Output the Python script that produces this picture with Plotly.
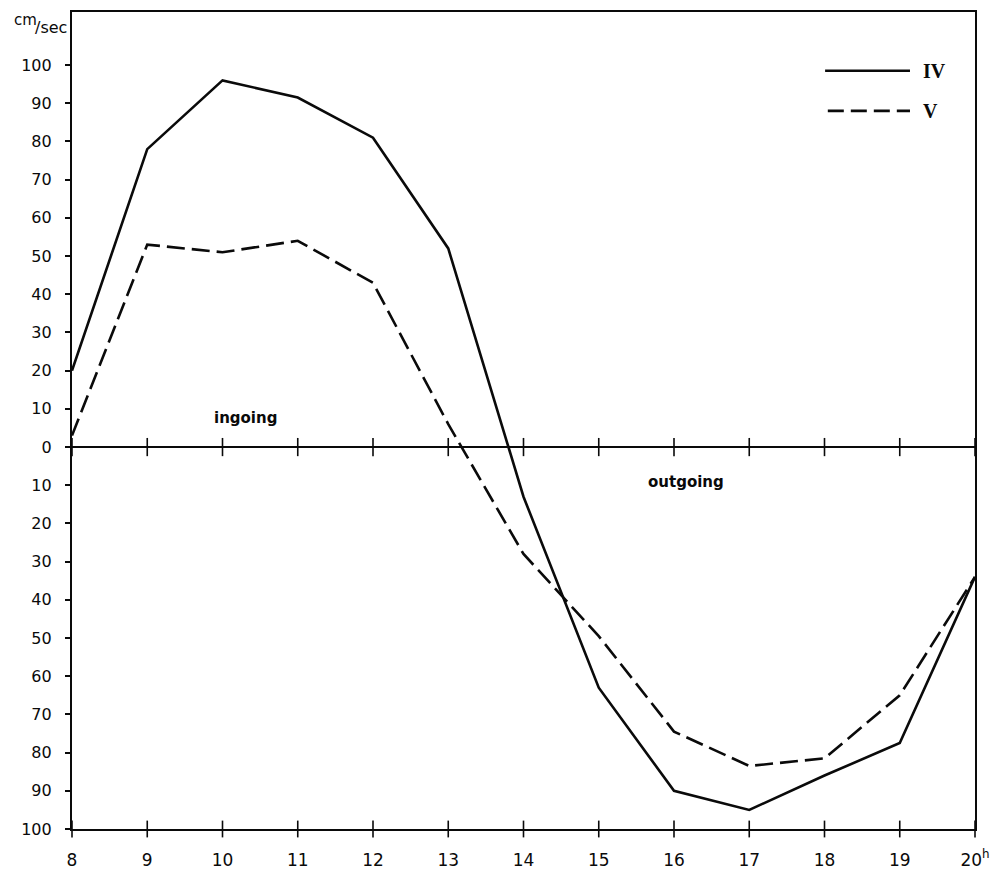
import plotly.graph_objects as go

hours = [8, 9, 10, 11, 12, 13, 14, 15, 16, 17, 18, 19, 20]
series_IV = [20, 78, 96, 91.5, 81, 52, -13, -63, -90, -95, -86, -77.5, -34]
series_V = [3, 53, 51, 54, 43, 6, -28, -49.5, -74.5, -83.5, -81.5, -65, -34]

x_tick_text = ["8", "9", "10", "11", "12", "13", "14", "15", "16", "17", "18", "19", "20<sup>h</sup>"]
y_tick_vals = list(range(-100, 101, 10))
y_tick_text = [str(abs(v)) for v in y_tick_vals]

FONT = "DejaVu Sans"
INK = "#0a0a0a"

fig = go.Figure()

# zero line with crossing ticks
fig.add_trace(go.Scatter(
    x=[hours[0], hours[-1]], y=[0, 0], mode="lines",
    line=dict(color=INK, width=2), hoverinfo="skip", showlegend=False))
fig.add_trace(go.Scatter(
    x=hours, y=[0] * len(hours), mode="markers",
    marker=dict(symbol="line-ns-open", size=13, color=INK, line=dict(color=INK, width=1.6)),
    hoverinfo="skip", showlegend=False, cliponaxis=False))
# crossing ticks on the bottom axis
fig.add_trace(go.Scatter(
    x=hours, y=[-100] * len(hours), mode="markers",
    marker=dict(symbol="line-ns-open", size=12, color=INK, line=dict(color=INK, width=1.6)),
    hoverinfo="skip", showlegend=False, cliponaxis=False))

fig.add_trace(go.Scatter(
    x=hours, y=series_IV, mode="lines", name="IV",
    line=dict(color=INK, width=2.6), showlegend=False))
fig.add_trace(go.Scatter(
    x=hours, y=series_V, mode="lines", name="V",
    line=dict(color=INK, width=2.6, dash="18px,7px"), showlegend=False))

fig.update_xaxes(
    range=[8, 20], tickmode="array", tickvals=hours, ticktext=x_tick_text,
    showgrid=False, zeroline=False, showline=True, linecolor=INK, linewidth=2.2,
    mirror=True, ticks="", automargin=False,
    ticklabelstandoff=14,
    tickfont=dict(family=FONT, size=17, color=INK))
fig.update_yaxes(
    range=[-100, 113.9], tickmode="array", tickvals=y_tick_vals, ticktext=y_tick_text,
    showgrid=False, zeroline=False, showline=True, linecolor=INK, linewidth=2.2,
    mirror=True, ticks="outside", ticklen=5, tickwidth=1.6, tickcolor=INK,
    ticklabelstandoff=10, automargin=False,
    tickfont=dict(family=FONT, size=16, color=INK))

# legend drawn manually
fig.add_shape(type="line", xref="paper", yref="paper", x0=0.834, x1=0.928, y0=0.928, y1=0.928,
              line=dict(color=INK, width=2.6))
fig.add_shape(type="line", xref="paper", yref="paper", x0=0.837, x1=0.928, y0=0.879, y1=0.879,
              line=dict(color=INK, width=2.8, dash="16px,7px"))
fig.add_annotation(xref="paper", yref="paper", x=0.94, y=0.928, text="<b>IV</b>", showarrow=False,
                   xanchor="left", yanchor="middle",
                   font=dict(family="Liberation Serif", size=20, color=INK))
fig.add_annotation(xref="paper", yref="paper", x=0.94, y=0.879, text="<b>V</b>", showarrow=False,
                   xanchor="left", yanchor="middle",
                   font=dict(family="Liberation Serif", size=20, color=INK))

fig.add_annotation(x=10.3, y=7.6, text="<b>ingoing</b>", showarrow=False,
                   font=dict(family=FONT, size=15, color=INK))
fig.add_annotation(x=16.16, y=-9.2, text="<b>outgoing</b>", showarrow=False,
                   font=dict(family=FONT, size=15, color=INK))
fig.add_annotation(xref="paper", yref="paper", x=0, y=0.99, xanchor="right", xshift=-33,
                   yanchor="middle", text="cm", showarrow=False,
                   font=dict(family=FONT, size=15, color=INK))
fig.add_annotation(xref="paper", yref="paper", x=0, y=0.981, xanchor="right", xshift=-3,
                   yanchor="middle", text="/sec", showarrow=False,
                   font=dict(family=FONT, size=16, color=INK))

fig.update_layout(
    width=994, height=871,
    margin=dict(l=72, r=19, t=12, b=42),
    paper_bgcolor="white", plot_bgcolor="white",
    showlegend=False,
)

fig.write_html("out.html")
